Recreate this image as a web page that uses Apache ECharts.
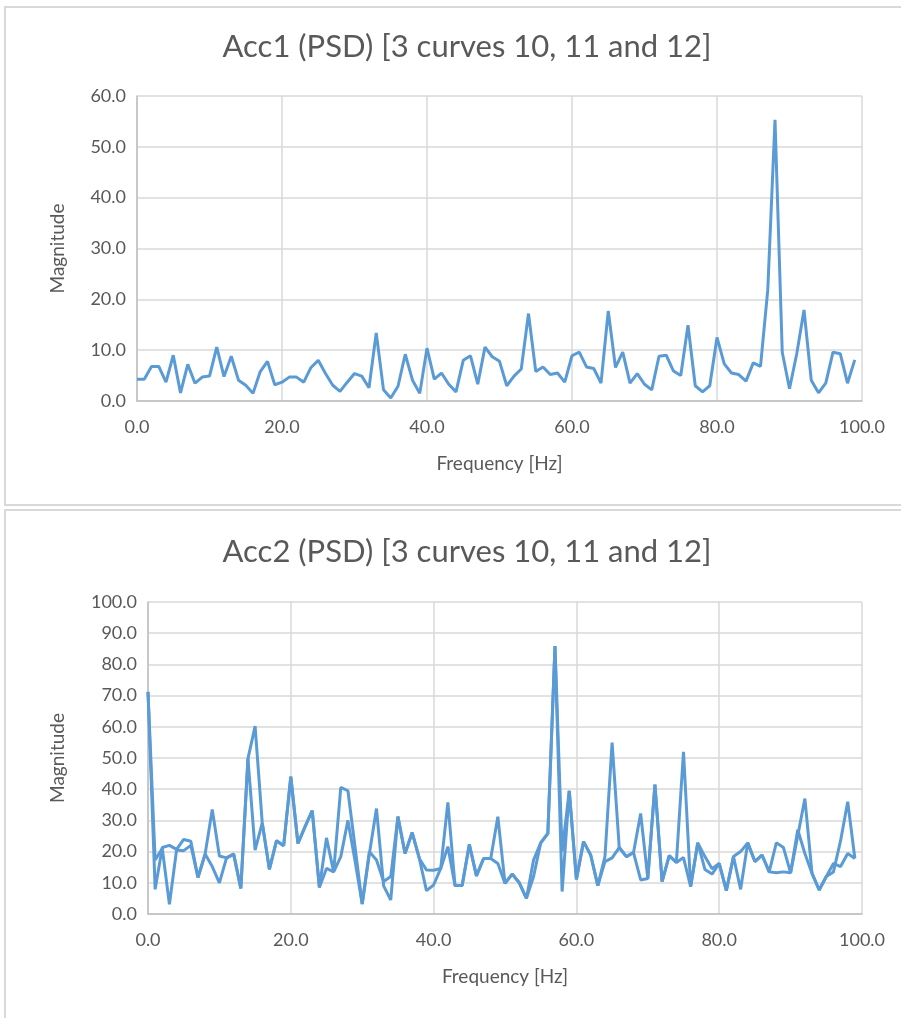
<!DOCTYPE html>
<html>
<head>
<meta charset="UTF-8">
<title>Acc PSD</title>
<script src="https://cdn.jsdelivr.net/npm/echarts@6/dist/echarts.min.js"></script>
<style>
  * { margin: 0; padding: 0; }
  body { background: #fff; }
  #main { width: 901px; height: 1018px; }
</style>
</head>
<body>
<div id="main"></div>
<script>
// frequency bins [Hz]
const freq = [
  0, 1, 2, 3, 4, 5, 6, 7, 8, 9, 10, 11, 12, 13, 14, 15, 16, 17, 18, 19,
  20, 21, 22, 23, 24, 25, 26, 27, 28, 29, 30, 31, 32, 33, 34, 35, 36, 37, 38, 39,
  40, 41, 42, 43, 44, 45, 46, 47, 48, 49, 50, 51, 52, 53, 54, 55, 56, 57, 58, 59,
  60, 61, 62, 63, 64, 65, 66, 67, 68, 69, 70, 71, 72, 73, 74, 75, 76, 77, 78, 79,
  80, 81, 82, 83, 84, 85, 86, 87, 88, 89, 90, 91, 92, 93, 94, 95, 96, 97, 98, 99
];

const acc1 = [
  4.3, 4.3, 6.8, 6.8, 3.7, 9.0, 1.6, 7.2, 3.5, 4.7, 4.9, 10.6, 4.8, 8.8, 4.1, 3.1, 1.5, 5.8, 7.8, 3.2,
  3.7, 4.7, 4.7, 3.7, 6.6, 8.0, 5.4, 3.1, 1.9, 3.7, 5.4, 4.9, 2.6, 13.4, 2.2, 0.6, 2.9, 9.2, 4.1, 1.5,
  10.4, 4.3, 5.5, 3.3, 1.8, 8.0, 8.9, 3.3, 10.6, 8.7, 7.8, 3.0, 4.9, 6.3, 17.2, 5.8, 6.7, 5.2, 5.5, 3.7,
  8.9, 9.6, 6.7, 6.4, 3.5, 17.7, 6.6, 9.6, 3.5, 5.4, 3.3, 2.2, 8.8, 9.0, 5.9, 5.0, 14.9, 3.0, 1.8, 3.0,
  12.5, 7.3, 5.5, 5.2, 3.9, 7.5, 6.8, 21.8, 55.3, 9.6, 2.4, 9.3, 17.9, 4.1, 1.6, 3.5, 9.6, 9.3, 3.5, 8.1
];

// Acc2: the overlapping traces
const acc2a = [
  71.2, 7.9, 21.3, 22.0, 20.7, 23.9, 23.3, 11.7, 19.2, 33.5, 18.6, 18.0, 19.2, 8.2, 49.8, 60.2, 29.2, 14.3, 23.5, 21.9,
  44.0, 22.6, 28.0, 33.1, 8.5, 24.4, 13.5, 40.6, 39.5, 21.4, 3.2, 19.2, 33.8, 9.0, 4.5, 31.2, 19.4, 26.1, 17.8, 7.5,
  9.3, 14.6, 35.8, 9.1, 9.1, 22.3, 12.2, 17.8, 17.8, 31.2, 9.8, 12.8, 10.0, 5.0, 12.0, 22.8, 25.8, 85.9, 7.2, 39.5,
  11.1, 23.2, 18.9, 9.1, 18.4, 54.9, 21.3, 18.4, 19.7, 32.2, 11.4, 41.5, 10.4, 18.7, 16.5, 52.0, 8.8, 22.8, 14.3, 12.8,
  16.2, 7.5, 18.4, 7.9, 22.8, 16.8, 18.9, 13.5, 22.8, 21.3, 13.2, 25.0, 37.0, 13.0, 7.7, 12.0, 13.5, 23.5, 36.0, 17.8
];
const acc2b = [
  71.2, 17.3, 21.0, 3.1, 20.5, 20.3, 22.0, 11.7, 19.2, 15.2, 10.0, 18.0, 19.2, 8.2, 49.8, 20.5, 29.2, 14.3, 23.5, 21.9,
  44.0, 22.6, 28.0, 33.1, 8.5, 14.6, 13.5, 18.4, 30.0, 17.0, 3.2, 20.0, 17.3, 10.4, 12.0, 31.2, 19.4, 26.1, 17.8, 14.1,
  14.0, 14.6, 21.6, 9.1, 9.1, 22.3, 12.2, 17.8, 17.8, 16.2, 9.8, 12.8, 10.0, 5.0, 17.3, 22.8, 25.8, 85.9, 20.0, 39.5,
  11.1, 23.2, 18.9, 9.1, 16.8, 18.0, 21.3, 18.4, 19.7, 10.9, 11.4, 41.5, 10.4, 18.7, 16.5, 18.1, 8.8, 22.8, 18.4, 14.5,
  16.2, 7.5, 18.4, 20.0, 22.8, 16.8, 18.9, 13.5, 13.2, 13.5, 13.2, 27.0, 19.4, 13.0, 7.7, 12.0, 16.2, 15.2, 19.4, 17.8
];

const titles = ['Acc1 (PSD) [3 curves 10, 11 and 12]', 'Acc2 (PSD) [3 curves 10, 11 and 12]'];

function pairs(ys) {
  return freq.map((f, i) => [f, ys[i]]);
}

const txt = '#595959';
const gridCol = '#D9D9D9';
const lineCol = '#5B9BD5';
const font = 'Lato';

function xAxisOf(idx) {
  return {
    type: 'value', gridIndex: idx, min: 0, max: 100, interval: 20,
    name: 'Frequency [Hz]', nameLocation: 'middle', nameGap: 53,
    nameTextStyle: { color: txt, fontSize: 19, fontFamily: font },
    axisLine: { show: true, lineStyle: { color: '#BFBFBF', width: 1.5 } },
    axisTick: { show: false },
    axisLabel: { color: txt, fontSize: 18, fontFamily: font, margin: 17, formatter: v => v.toFixed(1) },
    splitLine: { show: true, lineStyle: { color: gridCol, width: 1.5 } }
  };
}
function yAxisOf(idx, max) {
  return {
    type: 'value', gridIndex: idx, min: 0, max: max, interval: 10,
    name: 'Magnitude', nameLocation: 'middle', nameGap: idx === 0 ? 70 : 81,
    nameTextStyle: { color: txt, fontSize: 19, fontFamily: font },
    axisLine: { show: true, lineStyle: { color: '#BFBFBF', width: 1.5 } },
    axisTick: { show: false },
    axisLabel: { color: txt, fontSize: 18, fontFamily: font, margin: 11, formatter: v => v.toFixed(1) },
    splitLine: { show: true, lineStyle: { color: gridCol, width: 1.5 } }
  };
}
function lineOf(idx, ys) {
  return {
    type: 'line', xAxisIndex: idx, yAxisIndex: idx, data: pairs(ys),
    showSymbol: false, symbol: 'none', animation: false,
    lineStyle: { color: lineCol, width: 3 }
  };
}

const chart = echarts.init(document.getElementById('main'), null, { renderer: 'canvas' });
chart.setOption({
  backgroundColor: '#fff',
  animation: false,
  title: [
    { text: titles[0], left: 462, top: 26, textAlign: 'center',
      textStyle: { color: txt, fontSize: 31, fontWeight: 'normal', fontFamily: font } },
    { text: titles[1], left: 462, top: 531, textAlign: 'center',
      textStyle: { color: txt, fontSize: 31, fontWeight: 'normal', fontFamily: font } }
  ],
  graphic: [
    { type: 'rect', shape: { x: 5, y: 7, width: 910, height: 498 }, style: { fill: 'none', stroke: '#D9D9D9', lineWidth: 2 } },
    { type: 'rect', shape: { x: 5, y: 510, width: 910, height: 520 }, style: { fill: 'none', stroke: '#D9D9D9', lineWidth: 2 } }
  ],
  grid: [
    { left: 137, top: 96, width: 725, height: 305 },
    { left: 148, top: 602, width: 714, height: 312 }
  ],
  xAxis: [xAxisOf(0), xAxisOf(1)],
  yAxis: [yAxisOf(0, 60), yAxisOf(1, 100)],
  series: [lineOf(0, acc1), lineOf(1, acc2a), lineOf(1, acc2b)]
});
</script>
</body>
</html>
